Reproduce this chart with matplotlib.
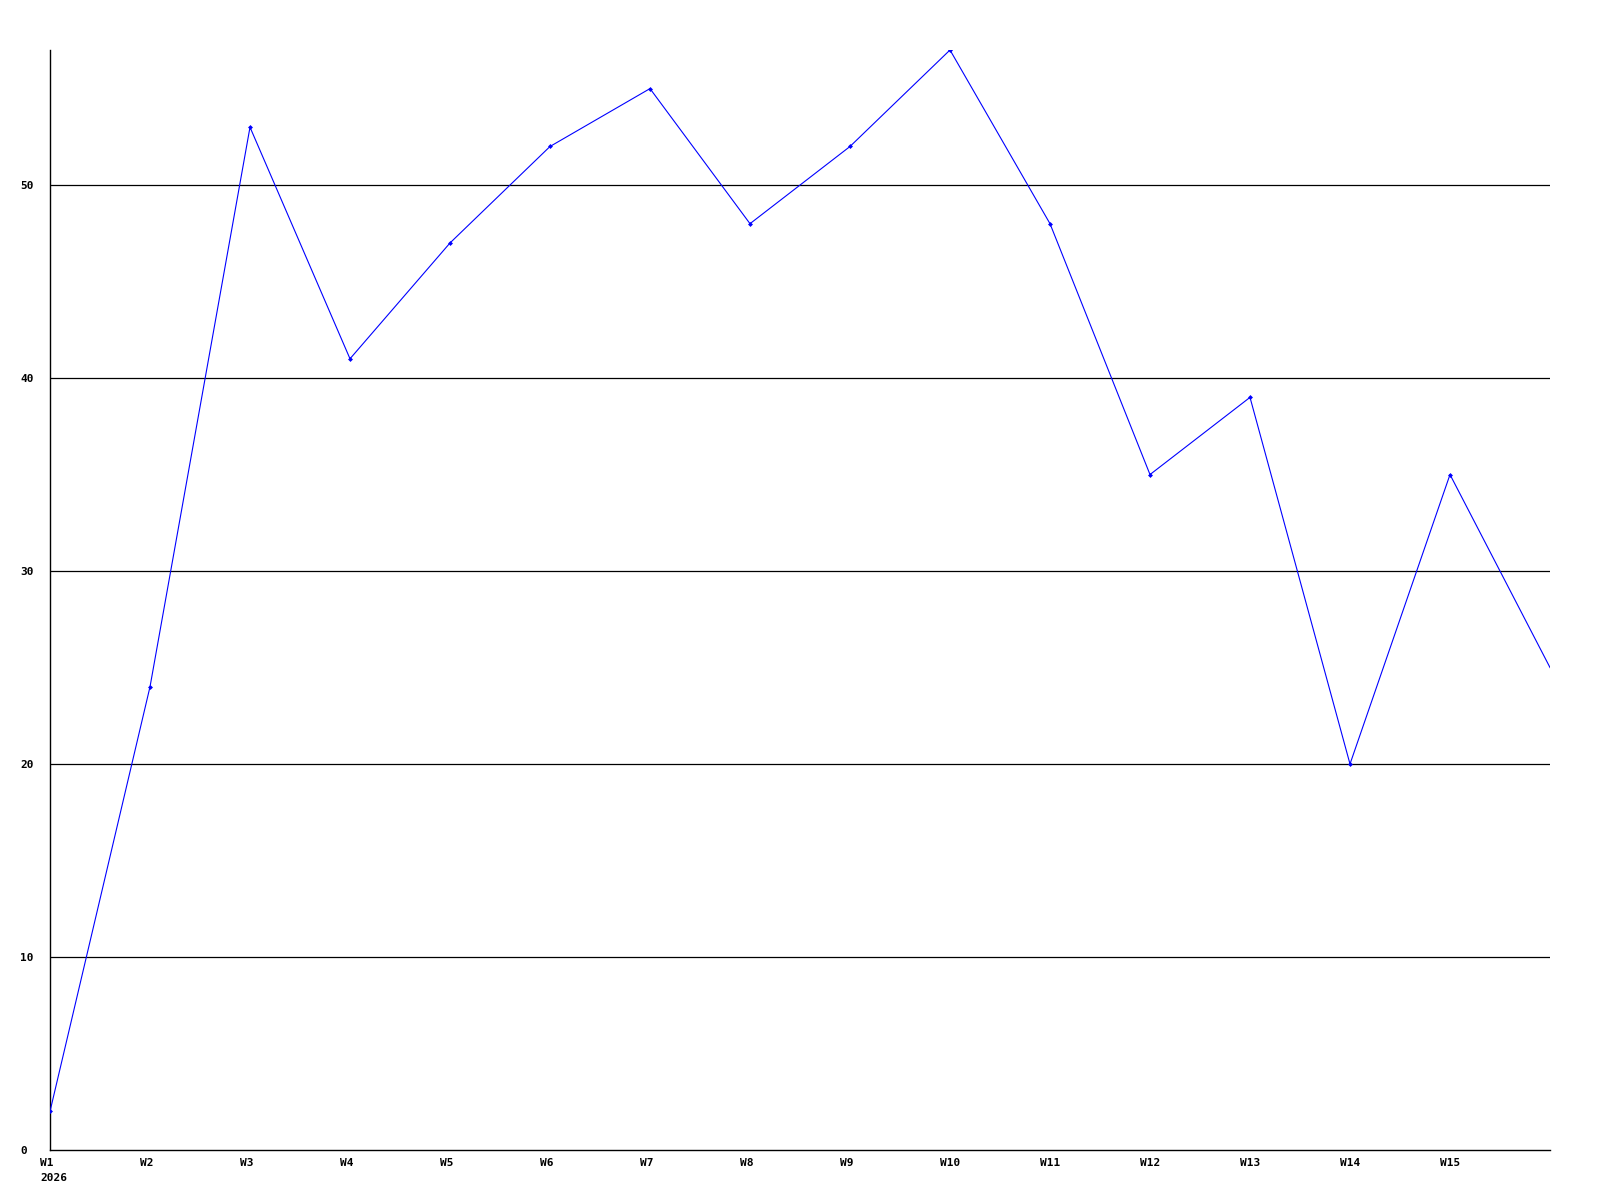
import matplotlib
matplotlib.use('Agg')
import matplotlib.pyplot as plt
from matplotlib.transforms import ScaledTranslation

weeks = ['W1', 'W2', 'W3', 'W4', 'W5', 'W6', 'W7', 'W8', 'W9', 'W10',
         'W11', 'W12', 'W13', 'W14', 'W15', 'W16']
values = [2, 24, 53, 41, 47, 52, 55, 48, 52, 57, 48, 35, 39, 20, 35, 25]
year = '2026'
yticks = [0, 10, 20, 30, 40, 50]

fig = plt.figure(figsize=(16, 12), dpi=100)
ax = fig.add_axes([50 / 1600, 50 / 1200, 1500 / 1600, 1100 / 1200])

x = list(range(len(values)))
# last point sits on the right edge and its marker is cut off in the original
ax.plot(x, values, color='#0000ff', linewidth=0.8, marker='D', markersize=2.5,
        markeredgewidth=0, markevery=list(range(len(values) - 1)), zorder=3)

ax.set_xlim(0, len(values) - 1)
ax.set_ylim(0, max(values))

for v in yticks[1:]:
    ax.axhline(v, color='black', linewidth=0.9, zorder=1)

for s in ['top', 'right']:
    ax.spines[s].set_visible(False)
for s in ['left', 'bottom']:
    ax.spines[s].set_linewidth(1.0)
    ax.spines[s].set_color('black')

font = dict(family='DejaVu Sans Mono', weight='bold', size=8)

ax.set_yticks(yticks)
ax.set_yticklabels([str(v) for v in yticks], ha='left', **font)
ax.tick_params(axis='y', length=0, pad=21.6)

labels = [w if i else f'{w}\n{year}' for i, w in enumerate(weeks[:-1])]
ax.set_xticks(x[:-1])
ax.set_xticklabels(labels, ha='left', va='top', linespacing=1.55, **font)
ax.tick_params(axis='x', length=0, pad=6)
off = ScaledTranslation(-10 / 100, 0, fig.dpi_scale_trans)
for lab in ax.get_xticklabels():
    lab.set_transform(lab.get_transform() + off)

fig.savefig('out.png', dpi=100, facecolor='white')
